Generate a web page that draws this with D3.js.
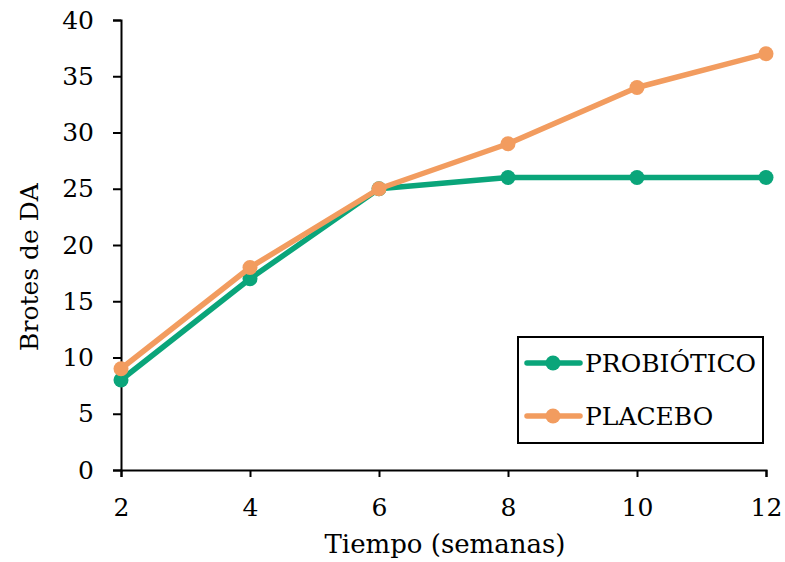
<!DOCTYPE html>
<html>
<head>
<meta charset="utf-8">
<script src="https://cdn.jsdelivr.net/npm/d3@7"></script>
<style>
  body { margin: 0; background: #fff; }
  text { font-family: "DejaVu Serif", "Liberation Serif", serif; fill: #000; }
</style>
</head>
<body>
<script>
const weeks = [2, 4, 6, 8, 10, 12];
const probiotico = [8, 17, 25, 26, 26, 26];
const placebo = [9, 18, 25, 29, 34, 37];
const yTicks = [0, 5, 10, 15, 20, 25, 30, 35, 40];
const seriesNames = ['PROBIÓTICO', 'PLACEBO'];
const seriesColors = ['#0aa57a', '#f29c5f'];

const W = 785, H = 562;
const margin = {left: 121, right: 19, top: 20, bottom: 92};
const width = W - margin.left - margin.right;
const height = H - margin.top - margin.bottom;

const svg = d3.select('body').append('svg')
    .attr('width', W).attr('height', H)
    .attr('xmlns', 'http://www.w3.org/2000/svg');

const g = svg.append('g').attr('transform', `translate(${margin.left}, ${margin.top})`);

const x = d3.scaleLinear().domain([2, 12]).range([0, width]);
const y = d3.scaleLinear().domain([0, 40]).range([height, 0]);

// axes
const xAxis = g.append('g')
    .attr('transform', `translate(0, ${height})`)
    .call(d3.axisBottom(x).tickValues(weeks).tickSize(7).tickPadding(21).tickFormat(d3.format('d')));
const yAxis = g.append('g')
    .call(d3.axisLeft(y).tickValues(yTicks).tickSize(8).tickPadding(19).tickFormat(d3.format('d')));

[xAxis, yAxis].forEach(a => {
    a.select('.domain').attr('stroke', '#000').attr('stroke-width', 2);
    a.selectAll('.tick line').attr('stroke', '#000').attr('stroke-width', 2);
    a.selectAll('.tick text').style('font-family', '"DejaVu Serif", serif').style('font-size', '25px').attr('fill', '#000');
});

// lines
const series = [probiotico, placebo];
const line = d3.line().x((d, i) => x(weeks[i])).y(d => y(d));

series.forEach((vals, k) => {
    g.append('path')
        .datum(vals)
        .attr('fill', 'none')
        .attr('stroke', seriesColors[k])
        .attr('stroke-width', 5.5)
        .attr('stroke-linejoin', 'round')
        .attr('d', line);
    g.selectAll(null)
        .data(vals)
        .enter()
        .append('circle')
        .attr('cx', (d, i) => x(weeks[i]))
        .attr('cy', d => y(d))
        .attr('r', 7.5)
        .attr('fill', seriesColors[k]);
});

// axis titles
svg.append('text')
    .attr('x', 445)
    .attr('y', 553)
    .attr('text-anchor', 'middle')
    .style('font-size', '26px')
    .text('Tiempo (semanas)');

svg.append('text')
    .attr('transform', 'translate(38, 267) rotate(-90)')
    .attr('text-anchor', 'middle')
    .style('font-size', '25px')
    .text('Brotes de DA');

// legend
const legend = svg.append('g').attr('transform', 'translate(518, 337)');
legend.append('rect')
    .attr('width', 245).attr('height', 106)
    .attr('fill', '#fff').attr('stroke', '#000').attr('stroke-width', 2);

seriesNames.forEach((name, k) => {
    const ly = 26 + k * 53;
    legend.append('line')
        .attr('x1', 9).attr('x2', 62)
        .attr('y1', ly).attr('y2', ly)
        .attr('stroke', seriesColors[k]).attr('stroke-width', 5.5)
        .attr('stroke-linecap', 'round');
    legend.append('circle')
        .attr('cx', 35).attr('cy', ly).attr('r', 7.5)
        .attr('fill', seriesColors[k]);
    legend.append('text')
        .attr('x', 67).attr('y', ly + 9)
        .style('font-size', '25px')
        .text(name);
});
</script>
</body>
</html>
